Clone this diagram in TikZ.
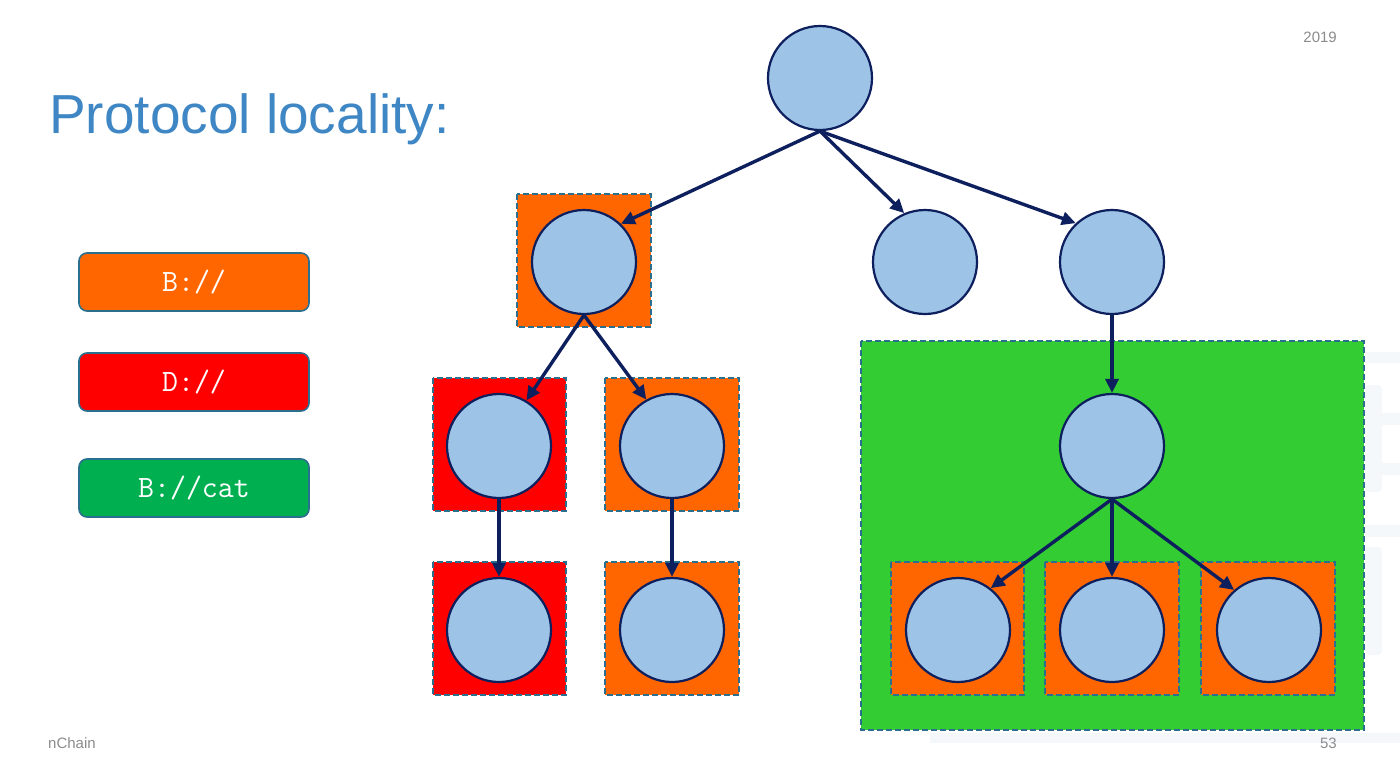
\documentclass[tikz,border=0pt]{standalone}
\usepackage{fontspec}
\setmainfont{Liberation Sans}
\usetikzlibrary{arrows.meta}
\definecolor{circfill}{HTML}{9DC3E6}
\definecolor{navy}{HTML}{0E1F5E}
\definecolor{orng}{HTML}{FF6600}
\definecolor{rd}{HTML}{FF0000}
\definecolor{grn}{HTML}{33CC33}
\definecolor{lgrn}{HTML}{00B050}
\definecolor{teal}{HTML}{2A6F8E}
\definecolor{titleblue}{HTML}{3F87C4}
\definecolor{graytxt}{HTML}{8C8C8C}
\definecolor{faint}{HTML}{F5F8FB}
\tikzset{
  tnode/.style={circle,draw=navy,line width=2.2pt,fill=circfill,minimum size=104pt,inner sep=0pt},
  zone/.style={draw=teal,line width=1.4pt,dash pattern=on 6pt off 3pt},
  legend/.style={draw=teal,line width=1.6pt,rounded corners=8pt,minimum width=230pt,minimum height=58pt,inner sep=0pt,text=white,font=\ttfamily\fontsize{31}{34}\selectfont},
  conn/.style={draw=navy,line width=3.4pt,-{Triangle[length=14pt,width=13pt]}},
  small/.style={text=graytxt,font=\fontsize{15}{17}\selectfont}
}
\begin{document}
\begin{tikzpicture}[x=1pt,y=-1pt]
\useasboundingbox (0,0) rectangle (1400,772);
\fill[white] (0,0) rectangle (1400,772);
% faint background pattern
\fill[faint] (1365,352) rectangle (1400,363);
\fill[faint,rounded corners=4pt] (1365,385) rectangle (1382,492);
\fill[faint] (1365,413) rectangle (1400,425);
\fill[faint] (1365,463) rectangle (1400,475);
\fill[faint] (1365,525) rectangle (1400,537);
\fill[faint,rounded corners=4pt] (1365,547) rectangle (1382,655);
\fill[faint] (930,733) rectangle (1400,743);
% title and footer texts
\node[anchor=base west,text=titleblue,font=\fontsize{55}{60}\selectfont,inner sep=0pt] (title) at (49,133) {Protocol locality:};
\node[small,anchor=base east,inner sep=0pt] (year) at (1337,42) {2019};
\node[small,anchor=base west,inner sep=0pt] (brand) at (48,748) {nChain};
\node[small,anchor=base east,inner sep=0pt] (page) at (1337,748) {53};
% legend
\node[legend,fill=orng] (lgB) at (194,282) {B://};
\node[legend,fill=rd] (lgD) at (194,382) {D://};
\node[legend,fill=lgrn] (lgC) at (194,488) {B://cat};
% zones
\filldraw[zone,fill=grn] (861,341) rectangle (1364,730);
\filldraw[zone,fill=orng] (517,194) rectangle (651,327);
\filldraw[zone,fill=rd] (433,378) rectangle (566,511);
\filldraw[zone,fill=orng] (605,378) rectangle (739,511);
\filldraw[zone,fill=rd] (433,562) rectangle (566,695);
\filldraw[zone,fill=orng] (605,562) rectangle (739,695);
\filldraw[zone,fill=orng] (891,562) rectangle (1024,695);
\filldraw[zone,fill=orng] (1045,562) rectangle (1179,695);
\filldraw[zone,fill=orng] (1201,562) rectangle (1335,695);
% nodes
\node[tnode] (root) at (820,78) {};
\node[tnode] (a) at (584,262) {};
\node[tnode] (b) at (925,262) {};
\node[tnode] (c) at (1112,262) {};
\node[tnode] (a1) at (499,446) {};
\node[tnode] (a2) at (672,446) {};
\node[tnode] (a11) at (499,630) {};
\node[tnode] (a21) at (672,630) {};
\node[tnode] (c1) at (1112,446) {};
\node[tnode] (c11) at (958,630) {};
\node[tnode] (c12) at (1112,630) {};
\node[tnode] (c13) at (1269,630) {};
% connectors
\draw[conn] (root.south) -- (a.46);
\draw[conn] (root.south) -- (b.113);
\draw[conn] (root.south) -- (c.133);
\draw[conn] (a.south) -- (a1.59);
\draw[conn] (a.south) -- (a2.119);
\draw[conn] (a1.south) -- (a11.north);
\draw[conn] (a2.south) -- (a21.north);
\draw[conn] (c.south) -- (c1.north);
\draw[conn] (c1.south) -- (c11.52);
\draw[conn] (c1.south) -- (c12.north);
\draw[conn] (c1.south) -- (c13.131);
\end{tikzpicture}
\end{document}
